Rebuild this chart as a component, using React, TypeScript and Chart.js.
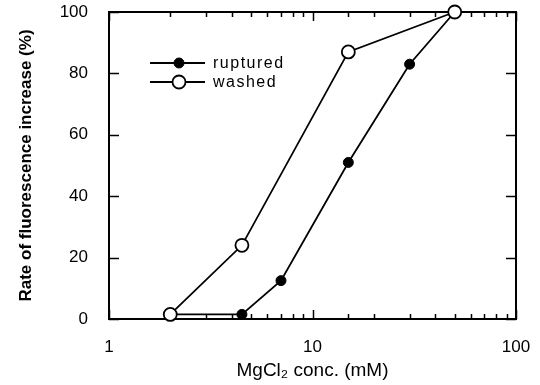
import React, { useEffect, useRef } from "react";
import { Chart, registerables } from "chart.js";

Chart.register(...registerables);

const rupturedX = [2, 4.5, 7, 15, 30, 50];
const rupturedY = [1.5, 1.5, 12.5, 51, 83, 100];
const washedX = [2, 4.5, 15, 50];
const washedY = [1.5, 24, 87, 100];
const xTickLabels = [1, 10, 100];
const yTicks = [0, 20, 40, 60, 80, 100];
const seriesNames = ["ruptured", "washed"];

const FONT = "'Liberation Sans', Arial, sans-serif";

const framePlugin = {
  id: "frameTicks",
  beforeDatasetsDraw(chart: any) {
    const { ctx, chartArea, scales } = chart;
    const { left, right, top, bottom } = chartArea;
    const x = scales.x;
    const y = scales.y;
    ctx.save();
    ctx.strokeStyle = "#000";
    ctx.lineWidth = 2;
    ctx.strokeRect(left, top, right - left, bottom - top);
    ctx.lineWidth = 1.5;
    ctx.beginPath();
    x.ticks.forEach((t: any) => {
      const px = Math.round(x.getPixelForValue(t.value)) + 0.5;
      const major = xTickLabels.includes(t.value);
      const len = major ? 9 : 5;
      ctx.moveTo(px, bottom);
      ctx.lineTo(px, bottom - len);
      ctx.moveTo(px, top);
      ctx.lineTo(px, top + len);
    });
    y.ticks.forEach((t: any) => {
      const py = Math.round(y.getPixelForValue(t.value)) + 0.5;
      ctx.moveTo(left, py);
      ctx.lineTo(left + 10, py);
      ctx.moveTo(right, py);
      ctx.lineTo(right - 10, py);
    });
    ctx.stroke();
    ctx.restore();
  },
  afterDatasetsDraw(chart: any) {
    const { ctx, chartArea } = chart;
    const { left, top } = chartArea;
    ctx.save();
    chart.data.datasets.forEach((ds: any, i: number) => {
      const yy = top + 51 + i * 19;
      ctx.strokeStyle = "#000";
      ctx.lineWidth = 1.8;
      ctx.beginPath();
      ctx.moveTo(left + 41, yy);
      ctx.lineTo(left + 96, yy);
      ctx.stroke();
      ctx.beginPath();
      ctx.arc(left + 70, yy, ds.pointRadius, 0, Math.PI * 2);
      ctx.fillStyle = ds.pointBackgroundColor;
      ctx.fill();
      ctx.lineWidth = ds.pointBorderWidth;
      ctx.stroke();
      ctx.fillStyle = "#000";
      ctx.font = `16px ${FONT}`;
      try {
        (ctx as any).letterSpacing = "1.5px";
      } catch (e) {}
      ctx.textBaseline = "middle";
      ctx.textAlign = "left";
      ctx.fillText(ds.label, left + 104, yy + 1);
    });
    ctx.restore();
  },
};

export default function App() {
  const ref = useRef<HTMLCanvasElement | null>(null);
  useEffect(() => {
    document.body.style.margin = "0";
    const canvas = ref.current;
    if (!canvas) return;
    const chart = new Chart(canvas, {
      type: "line",
      data: {
        datasets: [
          {
            label: seriesNames[0],
            data: rupturedX.map((v, i) => ({ x: v, y: rupturedY[i] })),
            borderColor: "#000",
            borderWidth: 1.8,
            pointRadius: 5,
            pointBackgroundColor: "#000",
            pointBorderColor: "#000",
            pointBorderWidth: 1,
            fill: false,
            tension: 0,
            clip: false,
            order: 2,
          },
          {
            label: seriesNames[1],
            data: washedX.map((v, i) => ({ x: v, y: washedY[i] })),
            borderColor: "#000",
            borderWidth: 1.8,
            pointRadius: 6.5,
            pointBackgroundColor: "#fff",
            pointBorderColor: "#000",
            pointBorderWidth: 1.8,
            fill: false,
            tension: 0,
            clip: false,
            order: 1,
          },
        ],
      },
      options: {
        animation: false,
        responsive: false,
        layout: { padding: { left: 0, right: 24, top: 12, bottom: 0 } },
        plugins: { legend: { display: false }, tooltip: { enabled: false } },
        scales: {
          x: {
            type: "logarithmic",
            min: 1,
            max: 100,
            grid: { display: false, drawTicks: false },
            border: { display: false },
            ticks: {
              autoSkip: false,
              maxRotation: 0,
              padding: 18,
              color: "#000",
              font: { family: FONT, size: 17 },
              callback: (v: any) => (xTickLabels.includes(Number(v)) ? String(v) : ""),
            },
            title: {
              display: true,
              text: "MgCl\u2082 conc. (mM)",
              color: "#000",
              font: { family: FONT, size: 19 },
              padding: { top: 0, bottom: 3 },
            },
            afterFit: (s: any) => {
              s.height = 66;
              s.paddingLeft = 0;
              s.paddingRight = 0;
            },
          },
          y: {
            type: "linear",
            min: 0,
            max: 100,
            grid: { display: false, drawTicks: false },
            border: { display: false },
            afterBuildTicks: (s: any) => {
              s.ticks = yTicks.map((v) => ({ value: v }));
            },
            ticks: {
              padding: 21,
              color: "#000",
              font: { family: FONT, size: 17 },
            },
            title: {
              display: true,
              text: "Rate of fluorescence increase (%)",
              color: "#000",
              font: { family: FONT, size: 17, weight: "bold" },
              padding: { top: 16, bottom: 0 },
            },
            afterFit: (s: any) => {
              s.width = 109;
              s.paddingTop = 0;
              s.paddingBottom = 0;
            },
          },
        },
      },
      plugins: [framePlugin],
    });
    return () => chart.destroy();
  }, []);
  return (
    <div style={{ width: 540, height: 385, background: "#fff" }}>
      <canvas ref={ref} width={540} height={385} />
    </div>
  );
}
